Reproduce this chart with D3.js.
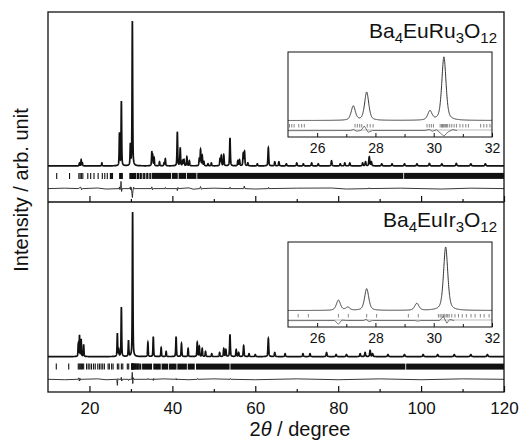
<!DOCTYPE html>
<html>
<head>
<meta charset="utf-8">
<script src="https://cdn.jsdelivr.net/npm/d3@7"></script>
<style>
  body { margin: 0; background: #fff; }
  text { font-family: "Liberation Sans", Arial, sans-serif; fill: #111; }
</style>
</head>
<body>
<svg id="chart" width="520" height="443"></svg>
<script>
// peak list: [2theta, height] (strongest line = 1000)
const ruPeaks = [
  [17.6, 20], [18.0, 42], [18.3, 20], [23.0, 20],
  [27.24, 225], [27.70, 445], [29.87, 143], [30.35, 1000],
  [35.05, 90], [35.25, 70], [35.6, 55], [36.9, 28], [38.0, 20], [38.3, 48],
  [41.2, 235], [41.9, 125], [42.5, 35], [42.8, 42], [43.5, 62], [44.1, 35],
  [46.5, 48], [46.8, 110], [47.2, 70], [47.6, 28], [48.6, 14], [49.4, 20],
  [51.5, 48], [51.8, 70], [52.4, 76], [53.9, 194], [55.8, 35], [56.2, 42],
  [57.1, 83], [57.4, 97], [58.2, 20], [60.5, 14], [63.15, 125], [64.7, 28],
  [65.7, 28], [67.5, 14], [70.0, 20], [71.6, 14], [73.6, 20], [75.2, 14],
  [78.4, 35], [80.5, 14], [81.6, 20], [82.8, 20], [85.9, 20], [86.6, 28],
  [87.5, 62], [88.0, 28], [90.5, 14], [93.0, 14], [96.0, 14], [99.0, 14],
  [102.0, 17], [105.0, 14], [108.5, 17], [112.0, 14], [115.5, 14]
];
const irPeaks = [
  [17.3, 83], [17.6, 145], [18.0, 118], [18.6, 83],
  [26.73, 160], [27.05, 47], [27.70, 342], [29.42, 110], [30.41, 1000],
  [34.1, 97], [35.4, 138], [37.3, 62], [38.5, 35], [40.9, 138], [42.2, 90],
  [43.8, 55], [46.0, 97], [46.5, 70], [47.2, 55], [48.0, 35], [49.5, 20],
  [51.4, 28], [52.4, 55], [52.9, 48], [53.9, 152], [55.4, 48], [56.0, 28],
  [57.2, 76], [58.5, 20], [60.0, 14], [63.15, 125], [64.7, 28], [67.2, 20],
  [71.5, 20], [73.2, 20], [77.2, 28], [79.5, 14], [82.0, 14], [85.3, 20],
  [86.5, 28], [87.7, 42], [88.3, 20], [92.0, 14], [96.0, 14], [100.5, 14],
  [104.0, 14], [108.0, 14], [112.0, 14], [116.0, 14]
];

// Bragg reflection markers (single ticks) and the solid runs where they merge
const ruRefl = [
  12.1, 15.2, 17.45, 17.75, 18.05, 18.4, 19.6, 20.3, 21.1, 22.1, 23.1, 23.7, 24.3,
  25.05, 25.13, 25.21, 25.37, 25.47, 25.56,
  27.30, 27.38, 27.46, 27.53, 27.72, 27.82, 27.92,
  29.77, 29.85, 29.92, 29.99,
  30.22, 30.27, 30.30, 30.33, 30.36, 30.40, 30.44, 30.48, 30.55, 30.62, 30.70, 30.78,
  30.90, 31.00, 31.10, 31.19, 31.61, 31.72, 31.82, 31.93,
  32.3, 32.6, 33.0, 33.3, 33.7, 34.0, 34.4, 34.7
];
const ruBands = [[35.0, 39.7], [39.9, 41.3], [41.5, 43.3], [43.5, 45.8], [46.0, 95.7], [95.9, 120]];
const irRefl = [
  12.0, 15.0, 17.3, 17.55, 17.8, 18.05, 18.3, 18.6, 19.3, 19.7, 20.1, 20.5, 21.0, 21.4,
  22.0, 22.4, 22.8, 23.2, 23.6, 24.5, 24.8,
  25.35, 25.70, 26.73, 27.07, 27.70, 28.04, 29.13, 29.47,
  30.16, 30.22, 30.28, 30.33, 30.38, 30.43, 30.48, 30.53, 30.62, 30.73, 30.85, 30.98,
  31.12, 31.28, 31.42, 31.60, 31.73, 31.90
];
const irBands = [[32.0, 32.5], [32.7, 35.1], [35.4, 37.2], [37.4, 39.0], [39.2, 41.0],
  [41.2, 43.5], [43.7, 45.4], [45.7, 53.8], [54.0, 96.2], [96.4, 120]];

// obs - calc difference, [2theta, value]
const ruDiff = [
  [10, 0], [14, 3], [17.3, 0], [17.9, 10], [18.1, -8], [18.3, 0], [22, 4], [24, -3],
  [27.15, 0], [27.25, 12], [27.35, -8], [27.5, 0], [27.62, 50], [27.75, -20], [27.9, 0],
  [29.7, 0], [29.85, 12], [29.95, -8], [30.1, 8], [30.25, -35], [30.35, -62], [30.5, -15],
  [30.65, 10], [30.8, 0], [34.9, 0], [35.05, 12], [35.2, -8], [35.4, 0], [38.2, 0],
  [38.3, 8], [38.4, 0], [41.1, 0], [41.2, -14], [41.35, 8], [41.5, 0], [44, 5], [45, -4],
  [46.6, 0], [46.8, 14], [47.0, -5], [47.2, 0], [50, 3], [53.8, 0], [53.9, 10], [54.0, 0],
  [57.2, 0], [57.35, 18], [57.5, 0], [60, -3], [63.1, 0], [63.2, 8], [63.3, 0], [70, 3],
  [78.4, 4], [82, -3], [87.4, 0], [87.5, 6], [87.6, 0], [95, 3], [105, -3], [112, 3], [120, 0]
];
const irDiff = [
  [10, 0], [14, -3], [17.2, 0], [17.4, 10], [17.55, -12], [17.7, 8], [17.9, -6], [18.1, 0],
  [22, 3], [24, -3], [26.6, 0], [26.73, -42], [26.85, 5], [27.0, 0], [27.6, 0], [27.68, 14],
  [27.78, -12], [27.9, 0], [29.35, 0], [29.45, -8], [29.55, 0], [30.2, 0], [30.33, 48],
  [30.45, -30], [30.55, 12], [30.7, 0], [34.0, 0], [34.1, 6], [34.2, 0], [35.3, 0],
  [35.4, -8], [35.5, 6], [35.6, 0], [38, 3], [40.8, 0], [40.9, 6], [41.0, -5], [41.1, 0],
  [44, -3], [46.0, 0], [46.1, 5], [46.2, 0], [50, 3], [53.9, 0], [54.0, 5], [54.1, 0],
  [60, -3], [70, 3], [80, -3], [90, 3], [100, -3], [110, 3], [120, 0]
];

const ruLabel = [["Ba", 0], ["4", 1], ["EuRu", 0], ["3", 1], ["O", 0], ["12", 1]];
const irLabel = [["Ba", 0], ["4", 1], ["EuIr", 0], ["3", 1], ["O", 0], ["12", 1]];

const mainMajor = [20, 40, 60, 80, 100, 120];
const mainMinor = [30, 50, 70, 90, 110];
const insetMajor = [26, 28, 30, 32];
const insetMinor = [27, 29, 31];

const svg = d3.select("#chart");
const x = d3.scaleLinear().domain([10, 120]).range([48, 504]);
const xIn = d3.scaleLinear().domain([25, 32]).range([288, 492]);

function fwhm(p) { return 0.13 + 0.0014 * p; }

// pseudo-Voigt sum over the peak list
function profile(peaks, t) {
  let s = 0;
  for (const [p, h] of peaks) {
    const dx = (t - p) / fwhm(p);
    if (Math.abs(dx) > 60) continue;
    const g = Math.exp(-4 * Math.LN2 * dx * dx);
    const l = 1 / (1 + 4 * dx * dx);
    s += h * (0.5 * g + 0.5 * l);
  }
  return s;
}

function drawPanel(p) {
  const g = svg.append("g");
  const y = d3.scaleLinear().domain([0, 1000]).range([p.base, p.base - 144.5]);
  const yD = d3.scaleLinear().domain([0, 1000]).range([p.base + 22.7, p.base + 22.7 - 144.5]);

  const grid = d3.range(10, 120.0001, 0.01);
  const line = d3.line().x(d => x(d[0])).y(d => y(d[1]));
  g.append("path")
    .datum(grid.map(t => [t, profile(p.peaks, t)]))
    .attr("d", line)
    .attr("fill", "none")
    .attr("stroke", "#111")
    .attr("stroke-width", 1.7);

  // reflection ticks
  g.selectAll(".refl")
    .data(p.refl)
    .enter()
    .append("line")
    .attr("x1", d => x(d)).attr("x2", d => x(d))
    .attr("y1", p.base + 7).attr("y2", p.base + 13)
    .attr("stroke", "#111")
    .attr("stroke-width", 1.1);
  g.selectAll(".band")
    .data(p.bands)
    .enter()
    .append("rect")
    .attr("x", d => x(d[0]))
    .attr("width", d => x(d[1]) - x(d[0]))
    .attr("y", p.base + 7)
    .attr("height", 6)
    .attr("fill", "#111");

  // difference curve
  g.append("path")
    .datum(p.diff)
    .attr("d", d3.line().x(d => x(d[0])).y(d => yD(d[1])))
    .attr("fill", "none")
    .attr("stroke", "#222")
    .attr("stroke-width", 0.9);

  // ticks on panel bottom, pointing inward
  g.append("g")
    .attr("transform", `translate(0,${p.bottom})`)
    .call(d3.axisTop(x).tickValues(mainMajor).tickSize(6).tickSizeOuter(0).tickFormat(""))
    .call(a => a.select(".domain").remove())
    .selectAll("line").attr("stroke", "#111").attr("stroke-width", 1.2);
  g.append("g")
    .attr("transform", `translate(0,${p.bottom})`)
    .call(d3.axisTop(x).tickValues(mainMinor).tickSize(3).tickSizeOuter(0).tickFormat(""))
    .call(a => a.select(".domain").remove())
    .selectAll("line").attr("stroke", "#111").attr("stroke-width", 1.2);

  // compound label
  const lab = g.append("text")
    .attr("x", 497)
    .attr("y", p.labelY)
    .attr("text-anchor", "end")
    .style("font-size", "21px");
  p.label.forEach(([s, sub], i) => {
    const prev = i > 0 ? p.label[i - 1][1] : 0;
    lab.append("tspan")
      .attr("dy", sub && !prev ? 5 : (!sub && prev ? -5 : 0))
      .style("font-size", sub ? "15px" : "21px")
      .text(s);
  });

  // inset
  const ig = svg.append("g");
  const iy0 = p.inset[0], iy1 = p.inset[1];
  const ib = iy1 - 16.5;
  const yi = d3.scaleLinear().domain([0, 1000]).range([ib, ib - 63.5]);
  const yiD = d3.scaleLinear().domain([0, 1000]).range([ib + 10, ib + 10 - 90]);
  const clipId = "clip" + p.id;
  svg.append("clipPath").attr("id", clipId)
    .append("rect").attr("x", 288).attr("y", iy0).attr("width", 204).attr("height", iy1 - iy0);
  ig.append("rect")
    .attr("x", 288).attr("y", iy0).attr("width", 204).attr("height", iy1 - iy0)
    .attr("fill", "#fff");
  const ic = ig.append("g").attr("clip-path", `url(#${clipId})`);

  const igrid = d3.range(25, 32.0001, 0.005);
  ic.append("path")
    .datum(igrid.map(t => [t, profile(p.peaks, t)]))
    .attr("d", d3.line().x(d => xIn(d[0])).y(d => yi(d[1])))
    .attr("fill", "none")
    .attr("stroke", "#333")
    .attr("stroke-width", 1);
  ic.selectAll(".irefl")
    .data(p.refl.filter(d => d >= 25 && d <= 32))
    .enter()
    .append("line")
    .attr("x1", d => xIn(d)).attr("x2", d => xIn(d))
    .attr("y1", ib + 3.5).attr("y2", ib + 7)
    .attr("stroke", "#777")
    .attr("stroke-width", 0.9);
  ic.append("line")
    .attr("x1", 288).attr("x2", 492)
    .attr("y1", ib + 9.5).attr("y2", ib + 9.5)
    .attr("stroke", "#aaa")
    .attr("stroke-width", 0.8);
  ic.append("path")
    .datum(p.diff.filter(d => d[0] >= 24 && d[0] <= 33))
    .attr("d", d3.line().x(d => xIn(d[0])).y(d => yiD(d[1])))
    .attr("fill", "none")
    .attr("stroke", "#555")
    .attr("stroke-width", 0.8);

  ig.append("g")
    .attr("transform", `translate(0,${iy1})`)
    .call(d3.axisBottom(xIn).tickValues(insetMajor).tickFormat(d3.format("d"))
      .tickSizeInner(-4).tickSizeOuter(0).tickPadding(6.5))
    .call(a => a.select(".domain").remove())
    .call(a => a.selectAll("line").attr("stroke", "#111"))
    .call(a => a.selectAll("text").style("font-size", "14px").attr("fill", "#111"))
    .attr("font-family", null);
  ig.append("g")
    .attr("transform", `translate(0,${iy1})`)
    .call(d3.axisBottom(xIn).tickValues(insetMinor).tickSizeInner(-3).tickSizeOuter(0).tickFormat(""))
    .call(a => a.select(".domain").remove())
    .selectAll("line").attr("stroke", "#111");
  ig.append("rect")
    .attr("x", 288).attr("y", iy0).attr("width", 204).attr("height", iy1 - iy0)
    .attr("fill", "none")
    .attr("stroke", "#111")
    .attr("stroke-width", 1);
}

drawPanel({ id: "ru", peaks: ruPeaks, refl: ruRefl, bands: ruBands, diff: ruDiff,
  base: 165.9, bottom: 202, label: ruLabel, labelY: 38, inset: [52, 137] });
drawPanel({ id: "ir", peaks: irPeaks, refl: irRefl, bands: irBands, diff: irDiff,
  base: 356.6, bottom: 392, label: irLabel, labelY: 227, inset: [242, 327] });

// frame and divider
svg.append("rect")
  .attr("x", 48).attr("y", 12).attr("width", 456).attr("height", 380)
  .attr("fill", "none").attr("stroke", "#111").attr("stroke-width", 1.3);
svg.append("line")
  .attr("x1", 48).attr("x2", 504).attr("y1", 202).attr("y2", 202)
  .attr("stroke", "#111").attr("stroke-width", 1.3);

// x tick labels
svg.append("g")
  .attr("transform", "translate(0,392)")
  .call(d3.axisBottom(x).tickValues(mainMajor).tickSizeInner(0).tickSizeOuter(0).tickPadding(10))
  .call(a => a.select(".domain").remove())
  .call(a => a.selectAll("text").style("font-size", "17px").attr("fill", "#111"))
  .attr("font-family", null);

// axis titles
const xt = svg.append("text")
  .attr("x", 300).attr("y", 436)
  .attr("text-anchor", "middle")
  .style("font-size", "20px");
xt.append("tspan").text("2");
xt.append("tspan").style("font-style", "italic").text("θ");
xt.append("tspan").text(" / degree");

svg.append("text")
  .attr("transform", "translate(28,190) rotate(-90)")
  .attr("text-anchor", "middle")
  .style("font-size", "20px")
  .text("Intensity / arb. unit");
</script>
</body>
</html>
